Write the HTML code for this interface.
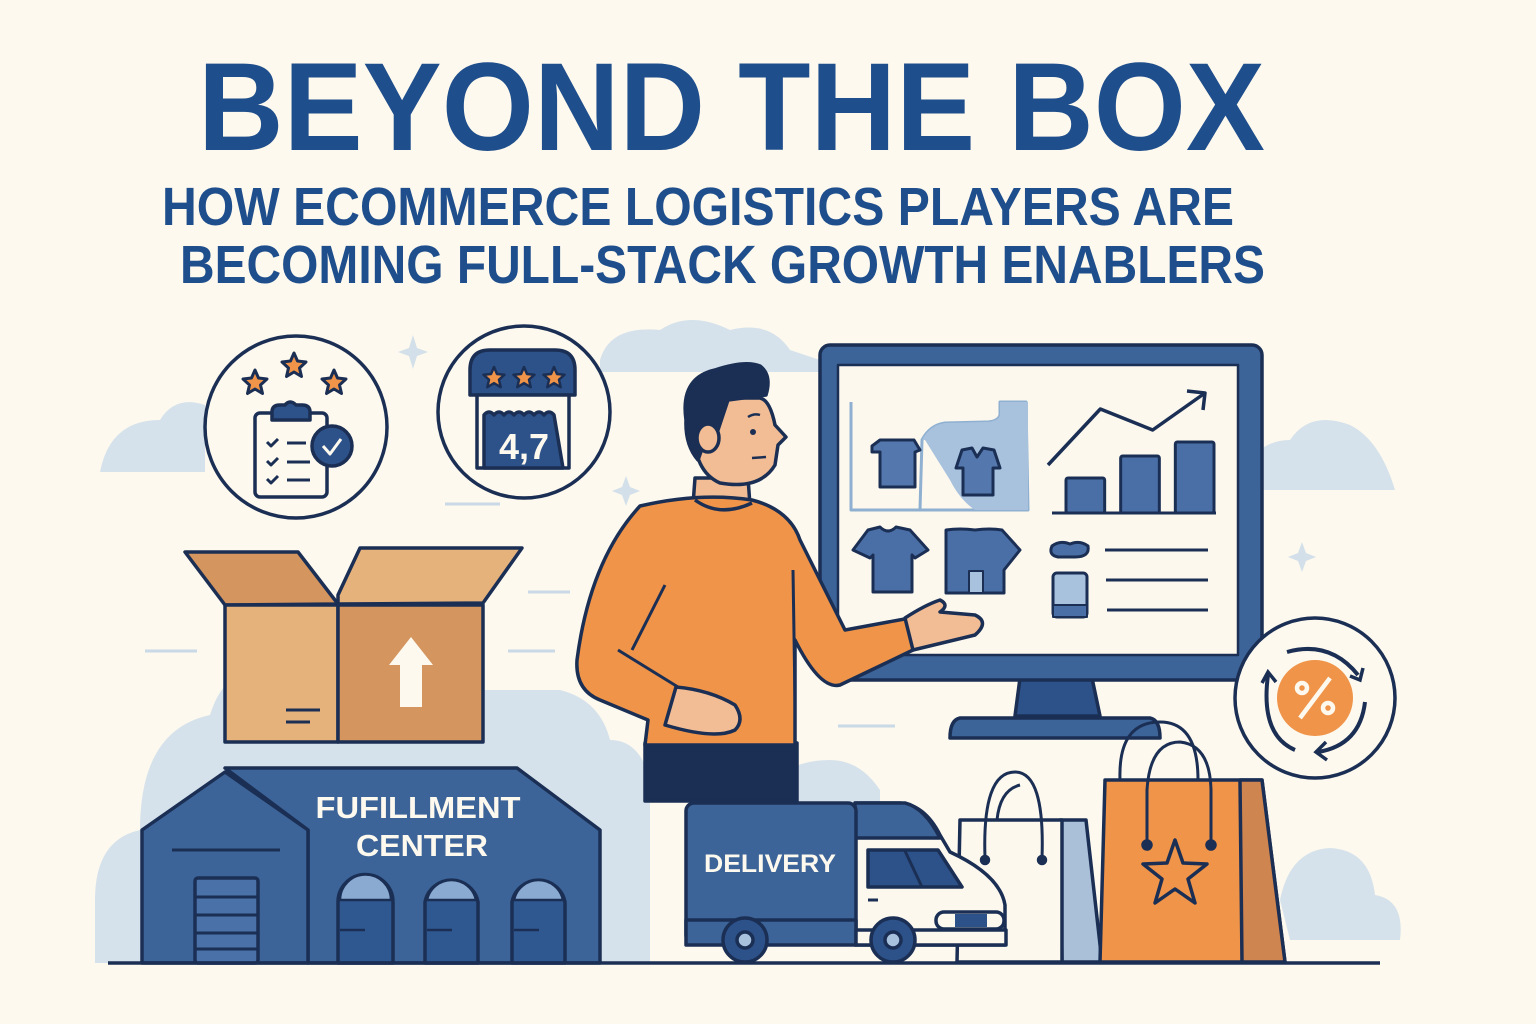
<!DOCTYPE html>
<html><head><meta charset="utf-8"><title>Beyond the Box</title>
<style>
html,body{margin:0;padding:0;background:#fdf9ee;}
svg{display:block;}
text{font-family:"Liberation Sans",sans-serif;}
</style></head>
<body>
<svg width="1536" height="1024" viewBox="0 0 1536 1024" xmlns="http://www.w3.org/2000/svg">
<rect width="1536" height="1024" fill="#fdf9ee"/>

<g fill="#d6e2eb">
  <path d="M100 472 Q110 420 160 420 Q175 395 205 405 L205 472 Z"/>
  <path d="M600 360 Q610 325 660 330 Q690 310 730 330 Q770 320 790 350 L820 360 L820 372 L600 372 Z"/>
  <path d="M1240 490 Q1250 440 1290 440 Q1310 410 1350 425 Q1380 440 1395 490 Z"/>
  <path d="M95 900 Q95 840 140 830 Q140 730 210 715 Q230 650 290 690 L560 690 Q600 700 610 740 Q640 740 650 780 L650 963 L95 963 Z"/>
  <path d="M760 800 Q780 760 830 760 Q860 760 880 790 L880 850 L760 850 Z"/>
  <path d="M1280 900 Q1290 850 1330 848 Q1370 850 1375 895 Q1405 900 1400 940 L1290 940 Z"/>
</g>
<g fill="none" stroke="#c9d9e6" stroke-width="3">
  <line x1="145" y1="651" x2="197" y2="651"/><line x1="508" y1="651" x2="555" y2="651"/>
  <line x1="528" y1="592" x2="570" y2="592"/><line x1="445" y1="504" x2="500" y2="504"/>
  <line x1="838" y1="726" x2="895" y2="726"/>
</g>
<g fill="#d3e0ea">
  <path d="M413 335 L417 348 L428 352 L417 356 L413 369 L409 356 L398 352 L409 348 Z"/>
  <path d="M626 476 L630 487 L640 491 L630 495 L626 506 L622 495 L612 491 L622 487 Z"/>
  <path d="M1302 542 L1306 553 L1316 557 L1306 561 L1302 572 L1298 561 L1288 557 L1298 553 Z"/>
</g>

<text x="198" y="150" font-size="125" font-weight="bold" fill="#1f4e8c" textLength="1067" lengthAdjust="spacingAndGlyphs">BEYOND THE BOX</text>
<text x="162" y="225" font-size="54" font-weight="bold" fill="#1f4e8c" textLength="1072" lengthAdjust="spacingAndGlyphs">HOW ECOMMERCE LOGISTICS PLAYERS ARE</text>
<text x="180" y="283" font-size="54" font-weight="bold" fill="#1f4e8c" textLength="1085" lengthAdjust="spacingAndGlyphs">BECOMING FULL-STACK GROWTH ENABLERS</text>

<g stroke="#1b2f55" stroke-width="3.5" stroke-linejoin="round">
  <circle cx="296" cy="427" r="91" fill="#fdf9ee"/>
  <g fill="#ef9449" stroke-width="3">
    <path d="M255 370 l3.5 8 8.5 1 -6.5 6 2 8.5 -7.5 -4.5 -7.5 4.5 2 -8.5 -6.5 -6 8.5 -1 Z"/>
    <path d="M294 353 l3.5 8 8.5 1 -6.5 6 2 8.5 -7.5 -4.5 -7.5 4.5 2 -8.5 -6.5 -6 8.5 -1 Z"/>
    <path d="M334 370 l3.5 8 8.5 1 -6.5 6 2 8.5 -7.5 -4.5 -7.5 4.5 2 -8.5 -6.5 -6 8.5 -1 Z"/>
  </g>
  <rect x="255" y="413" width="72" height="84" rx="5" fill="#fdf9ee"/>
  <path d="M272 420 L272 412 Q272 405 280 405 L285 405 Q290 399 296 405 L302 405 Q310 405 310 412 L310 420 Z" fill="#2d5289"/>
  <g fill="none" stroke-width="3">
    <path d="M267 442 l4 4 7 -7"/><line x1="287" y1="443" x2="306" y2="443"/>
    <path d="M267 461 l4 4 7 -7"/><line x1="287" y1="462" x2="310" y2="462"/>
    <path d="M267 479 l4 4 7 -7"/><line x1="287" y1="480" x2="310" y2="480"/>
  </g>
  <circle cx="332" cy="446" r="20" fill="#2d5289"/>
  <path d="M323 446 l7 8 11 -15" fill="none" stroke="#fdf9ee" stroke-width="3"/>
</g>

<g stroke="#1b2f55" stroke-width="3.5" stroke-linejoin="round">
  <circle cx="524" cy="412" r="86" fill="#fdf9ee"/>
  <path d="M470 395 L470 370 Q470 350 490 350 L555 350 Q575 350 575 370 L575 395 Z" fill="#2d5289"/>
  <rect x="477" y="395" width="92" height="73" fill="#fdf9ee"/>
  <path d="M484 415 q5 -6 10 0 q5 -6 10 0 q5 -6 10 0 q5 -6 10 0 q5 -6 10 0 q5 -6 10 0 q5 -6 10 0 L563 468 L484 468 Z" fill="#2d5289"/>
  <g fill="#ef9449" stroke-width="2.5">
    <path d="M494 367 l3 7 7.5 0.7 -5.5 5 1.7 7.5 -6.7 -4 -6.7 4 1.7 -7.5 -5.5 -5 7.5 -0.7 Z"/>
    <path d="M524 367 l3 7 7.5 0.7 -5.5 5 1.7 7.5 -6.7 -4 -6.7 4 1.7 -7.5 -5.5 -5 7.5 -0.7 Z"/>
    <path d="M554 367 l3 7 7.5 0.7 -5.5 5 1.7 7.5 -6.7 -4 -6.7 4 1.7 -7.5 -5.5 -5 7.5 -0.7 Z"/>
  </g>
  <text x="524" y="459" font-size="36" font-weight="bold" fill="#fdf9ee" stroke="none" text-anchor="middle">4,7</text>
</g>

<g stroke="#1b2f55" stroke-width="3.5" stroke-linejoin="round">
  <path d="M1020 678 L1015 716 L1100 716 L1092 678 Z" fill="#2d5289"/>
  <path d="M960 718 L1150 718 Q1160 720 1160 738 L950 738 Q950 720 960 718 Z" fill="#3d6498"/>
  <rect x="820" y="345" width="442" height="335" rx="10" fill="#3d6498"/>
  <rect x="838" y="365" width="400" height="290" fill="#fcf8ee" stroke-width="2.5"/>
  <path d="M851 402 L851 510 L1028 510 L1026 402 L1000 402 L1000 415 Q998 422 985 422 L945 423 Q930 425 922 440 L920 510" fill="none" stroke="#8fb0d1" stroke-width="3"/>
  <path d="M922 440 Q930 425 945 423 L985 422 Q998 422 1000 415 L1000 402 L1028 402 L1028 510 L975 510 Q960 500 950 480 L925 440 Z" fill="#a8c2de" stroke="none"/>
  <path d="M872 446 L880 440 L914 440 L920 450 L915 452 L915 487 L880 487 L880 452 L872 452 Z" fill="#5478ad" stroke-width="3"/>
  <path d="M962 450 L972 448 L977 457 L983 448 L994 450 L1000 468 L993 468 L993 495 L963 495 L963 468 L956 468 Z" fill="#5478ad" stroke-width="3"/>
  <path d="M868 530 L880 527 Q888 535 896 527 L910 530 L928 550 L915 558 L912 555 L912 592 L873 592 L873 555 L870 558 L853 550 Z" fill="#4a6fa6" stroke-width="3"/>
  <path d="M946 530 Q960 528 975 530 Q990 528 1002 530 L1020 550 L1004 570 L1004 593 L946 593 Z" fill="#4a6fa6" stroke-width="3"/>
  <rect x="969" y="571" width="14" height="22" fill="#a8c2de" stroke-width="2"/>
  <path d="M1052 546 Q1060 540 1070 544 Q1080 540 1088 546 Q1090 557 1075 557 L1058 557 Q1048 555 1052 546 Z" fill="#4a6fa6" stroke-width="3"/>
  <rect x="1053" y="573" width="34" height="44" rx="4" fill="#a8c2de" stroke-width="3"/>
  <rect x="1053" y="605" width="34" height="12" fill="#4a6fa6" stroke-width="2"/>
  <g stroke-width="3"><line x1="1105" y1="550" x2="1208" y2="550"/><line x1="1106" y1="580" x2="1208" y2="580"/><line x1="1107" y1="610" x2="1208" y2="610"/></g>
  <g id="bar-chart"></g>
</g>

<g stroke="#1b2f55" stroke-width="3.5" stroke-linejoin="round">
  <path d="M185 552 L298 552 L338 604 L225 605 Z" fill="#d4955f"/>
  <path d="M338 595 L360 548 L522 548 L483 603 L338 604 Z" fill="#e6b27c"/>
  <rect x="225" y="605" width="113" height="137" fill="#e6b27c"/>
  <rect x="338" y="605" width="145" height="137" fill="#d4955f"/>
  <path d="M411 637 L433 665 L422 665 L422 707 L400 707 L400 665 L389 665 Z" fill="#fdf9ee" stroke="none"/>
  <g stroke-width="3"><line x1="286" y1="710" x2="320" y2="710"/><line x1="286" y1="722" x2="310" y2="722"/></g>
</g>

<g stroke="#1b2f55" stroke-width="3.5" stroke-linejoin="round">
  <path d="M225 768 L517 768 L600 830 L600 963 L308 963 L308 830 Z" fill="#3d6498"/>
  <path d="M142 830 L225 772 L308 830 L308 963 L142 963 Z" fill="#3d6498"/>
  <line x1="172" y1="850" x2="280" y2="850" stroke-width="3"/>
  <rect x="195" y="878" width="63" height="85" rx="3" fill="#4a72a8"/>
  <g stroke-width="3"><line x1="195" y1="897" x2="258" y2="897"/><line x1="195" y1="915" x2="258" y2="915"/><line x1="195" y1="933" x2="258" y2="933"/><line x1="195" y1="949" x2="258" y2="949"/></g>
  <g fill="#2f5890">
    <path d="M338 963 L338 902 A27 27 0 0 1 393 902 L393 963 Z"/>
    <path d="M425 963 L425 902 A27 27 0 0 1 478 902 L478 963 Z"/>
    <path d="M512 963 L512 902 A27 27 0 0 1 565 902 L565 963 Z"/>
  </g>
  <g fill="#8aaad1" stroke-width="2.5">
    <path d="M340 900 A25 25 0 0 1 391 900 Z"/>
    <path d="M427 900 A25 25 0 0 1 476 900 Z"/>
    <path d="M514 900 A25 25 0 0 1 563 900 Z"/>
  </g>
  <g stroke-width="2.5"><line x1="340" y1="930" x2="365" y2="930"/><line x1="427" y1="930" x2="452" y2="930"/><line x1="514" y1="930" x2="539" y2="930"/></g>
  <text x="418" y="818" font-size="31" font-weight="bold" fill="#fdf9ee" stroke="none" text-anchor="middle" textLength="205" lengthAdjust="spacingAndGlyphs">FUFILLMENT</text>
  <text x="422" y="856" font-size="31" font-weight="bold" fill="#fdf9ee" stroke="none" text-anchor="middle" textLength="132" lengthAdjust="spacingAndGlyphs">CENTER</text>
</g>

<g stroke="#1b2f55" stroke-width="3.5" stroke-linejoin="round">
  <rect x="645" y="743" width="152" height="58" fill="#1b2f55"/>
  <path d="M695 478 L693 505 L750 505 L748 478 Z" fill="#f2bd94"/>
  <path d="M640 506 Q700 492 752 500 Q790 510 800 540 L845 630 L910 618 L913 650 L840 685 Q820 690 795 640 L795 745 L645 745 L648 720 L600 700 Q575 690 577 660 Q590 560 640 506 Z" fill="#ef9449"/>
  <path d="M695 500 Q720 518 752 503" fill="none"/>
  <line x1="665" y1="585" x2="632" y2="650" stroke-width="3"/>
  <line x1="793" y1="570" x2="795" y2="700" stroke-width="3"/>
  <path d="M618 650 L678 687" fill="none" stroke-width="3"/>
  <path d="M676 687 Q710 690 735 705 Q745 720 735 730 Q715 740 665 725 Z" fill="#f2bd94"/>
  <path d="M905 618 Q925 605 940 600 Q950 605 940 612 L975 615 Q990 622 975 635 L913 650 Z" fill="#f2bd94"/>
  <path d="M694 415 Q690 470 720 483 Q760 490 775 465 L778 445 L786 437 L775 425 Q770 400 760 398 L700 398 Z" fill="#f2bd94"/>
  <path d="M686 420 Q680 378 715 370 Q745 360 760 366 Q772 375 766 395 L728 400 L718 430 L705 440 L698 460 Q685 445 686 420 Z" fill="#1b2f55"/>
  <ellipse cx="708" cy="438" rx="11" ry="14" fill="#f2bd94"/>
  <circle cx="753" cy="432" r="3" fill="#1b2f55" stroke="none"/>
  <path d="M748 417 Q754 413 760 415" fill="none" stroke-width="2.5"/>
  <path d="M752 458 L766 457" fill="none" stroke-width="2.5"/>
</g>

<g stroke="#1b2f55" stroke-width="3.5" stroke-linejoin="round">
  <path d="M1060 820 L1086 820 L1102 962 L1062 962 Z" fill="#aac0d8"/>
  <path d="M960 820 L1062 820 L1062 962 L957 962 Z" fill="#fcf8ee"/>
  <path d="M985 858 Q982 772 1015 772 Q1045 772 1042 858 M997 820 Q1000 790 1020 785" fill="none" stroke-width="3"/>
  <circle cx="985" cy="860" r="3.5" fill="#1b2f55"/><circle cx="1042" cy="860" r="3.5" fill="#1b2f55"/>
  <path d="M1120 780 Q1118 722 1160 722 Q1198 722 1198 780" fill="none" stroke-width="3"/>
  <path d="M1105 780 L1262 780 L1285 962 L1100 962 Z" fill="#ef9449"/>
  <path d="M1240 780 L1262 780 L1285 962 L1242 962 Z" fill="#cf8550"/>
  <path d="M1147 845 L1147 790 Q1150 742 1180 742 Q1210 745 1211 790 L1211 845" fill="none" stroke-width="3"/>
  <circle cx="1147" cy="845" r="4" fill="#1b2f55"/><circle cx="1211" cy="845" r="4" fill="#1b2f55"/>
  <path d="M1175 840 L1183 863 L1207 864 L1188 879 L1195 903 L1175 889 L1155 903 L1162 879 L1143 864 L1167 863 Z" fill="none" stroke-width="3.5"/>
</g>

<g stroke="#1b2f55" stroke-width="3.5" stroke-linejoin="round">
  <path d="M855 803 L900 803 Q925 805 940 835 L950 852 Q1000 875 1005 905 L1005 945 L855 945 Z" fill="#fcf8ee"/>
  <path d="M855 803 L905 803 Q925 808 940 838 L855 838 Z" fill="#3d6498"/>
  <path d="M868 850 L938 850 L962 887 L868 887 Z" fill="#2d5289"/>
  <line x1="905" y1="851" x2="922" y2="887" stroke-width="3"/>
  <line x1="868" y1="900" x2="878" y2="900" stroke-width="3"/>
  <rect x="936" y="912" width="68" height="17" rx="8" fill="#fcf8ee"/>
  <rect x="955" y="914" width="32" height="13" fill="#2d5289" stroke="none"/>
  <rect x="686" y="803" width="170" height="140" rx="8" fill="#3d6498"/>
  <rect x="686" y="920" width="170" height="25" fill="#3d6498"/>
  <rect x="856" y="930" width="150" height="15" fill="#fcf8ee"/>
  <circle cx="745" cy="940" r="22" fill="#2d5289"/><circle cx="745" cy="940" r="8" fill="#a8c2de"/>
  <circle cx="893" cy="940" r="22" fill="#2d5289"/><circle cx="893" cy="940" r="8" fill="#a8c2de"/>
  <text x="770" y="872" font-size="25" font-weight="bold" fill="#fdf9ee" stroke="none" text-anchor="middle" textLength="132" lengthAdjust="spacingAndGlyphs">DELIVERY</text>
</g>

<g stroke="#1b2f55" stroke-width="3.5" fill="none">
  <circle cx="1315" cy="698" r="80" fill="#fdf9ee"/>
  <circle cx="1315" cy="698" r="38" fill="#ef9449" stroke="none"/>
  <path d="M1287 652 Q1330 640 1358 675" stroke-width="4"/>
  <path d="M1350 676 L1360 680 L1363 668"/>
  <path d="M1365 702 Q1360 745 1318 752" stroke-width="4"/>
  <path d="M1326 742 L1316 752 L1327 760"/>
  <path d="M1295 750 Q1260 735 1268 675" stroke-width="4"/>
  <path d="M1262 683 L1268 672 L1276 682"/>
  <g stroke="#fdf9ee" stroke-width="4.5"><line x1="1300" y1="718" x2="1330" y2="678"/><circle cx="1302" cy="688" r="5"/><circle cx="1328" cy="708" r="5"/></g>
</g>

<line x1="108" y1="963" x2="1380" y2="963" stroke="#1b2f55" stroke-width="3.5"/>

<script>
const barCategories = ["q1", "q2", "q3"];
const barValues = [0.35, 0.57, 0.71];
const trendValues = [0.48, 1.04, 0.83, 1.2];
(function(){
  const NS = "http://www.w3.org/2000/svg";
  const g = document.getElementById("bar-chart");
  const x0 = 1052, x1 = 1216, baseY = 513, maxH = 100;
  const band = (x1 - x0) / barCategories.length;
  const xScale = i => x0 + 14 + i * band;
  const yScale = v => baseY - v * maxH;
  const bw = band - 16;
  barValues.forEach((v, i) => {
    const r = document.createElementNS(NS, "rect");
    r.setAttribute("x", xScale(i));
    r.setAttribute("y", yScale(v));
    r.setAttribute("width", bw);
    r.setAttribute("height", baseY - yScale(v));
    r.setAttribute("rx", 2);
    r.setAttribute("fill", "#4a6fa6");
    r.setAttribute("stroke", "#1b2f55");
    r.setAttribute("stroke-width", "3");
    
    
    g.appendChild(r);
  });
  const base = document.createElementNS(NS, "line");
  base.setAttribute("x1", x0); base.setAttribute("x2", x1);
  base.setAttribute("y1", baseY); base.setAttribute("y2", baseY);
  base.setAttribute("stroke", "#1b2f55"); base.setAttribute("stroke-width", "3");
  
  
  g.appendChild(base);
  const tx = i => 1048 + i * (157 / (trendValues.length - 1));
  const pts = trendValues.map((v, i) => tx(i) + "," + yScale(v)).join(" ");
  const pl = document.createElementNS(NS, "polyline");
  pl.setAttribute("points", pts);
  pl.setAttribute("fill", "none"); pl.setAttribute("stroke", "#1b2f55"); pl.setAttribute("stroke-width", "3.5");
  
  
  g.appendChild(pl);
  const lx = tx(trendValues.length - 1), ly = yScale(trendValues[trendValues.length - 1]);
  const ah = document.createElementNS(NS, "path");
  ah.setAttribute("d", "M" + (lx - 18) + " " + (ly - 2) + " L" + lx + " " + ly + " L" + (lx - 2) + " " + (ly + 17));
  ah.setAttribute("fill", "none"); ah.setAttribute("stroke", "#1b2f55"); ah.setAttribute("stroke-width", "3.5");
  
  
  g.appendChild(ah);
})();
</script>
</svg>
</body></html>
